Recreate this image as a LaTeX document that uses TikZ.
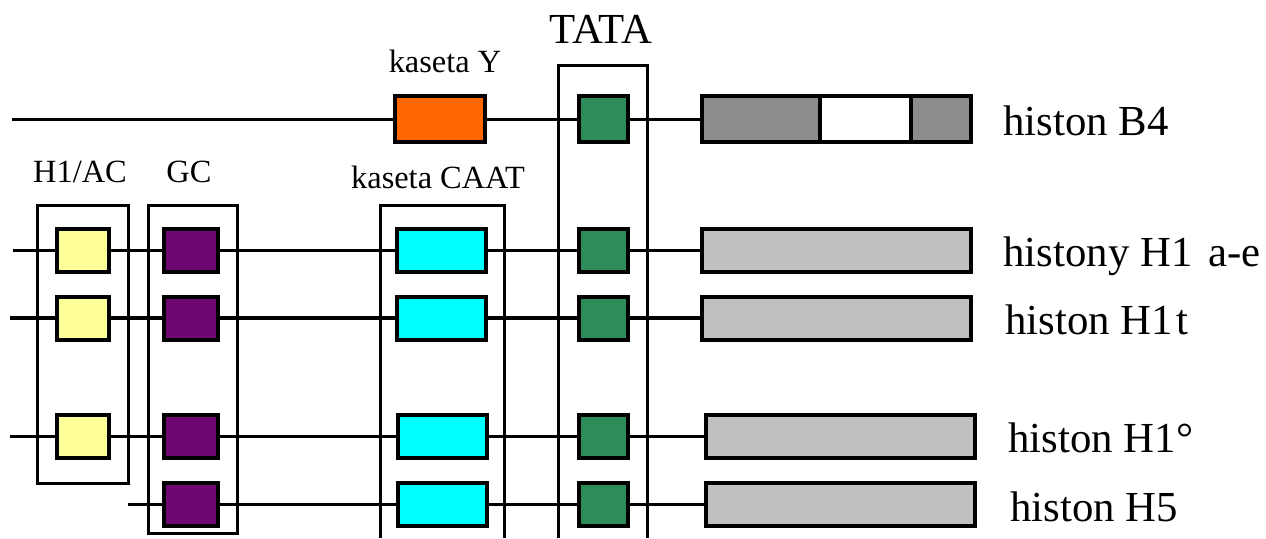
\documentclass[tikz,border=0pt]{standalone}
\usepackage{fontspec}
\setmainfont{Liberation Serif}
\usetikzlibrary{backgrounds}
\definecolor{boxYellow}{HTML}{FFFF99}
\definecolor{boxPurple}{HTML}{6E0870}
\definecolor{boxCyan}{HTML}{00FFFF}
\definecolor{boxGreen}{HTML}{2E8B5A}
\definecolor{boxOrange}{HTML}{FF6600}
\definecolor{exonDark}{HTML}{8C8C8C}
\definecolor{exonLight}{HTML}{C0C0C0}
\begin{document}
\begin{tikzpicture}[x=0.5pt,y=-0.5pt,
  element/.style={draw=black,line width=2pt,inner sep=0pt,outer sep=0pt,minimum height=21.5pt},
  tall/.style={minimum height=23pt},
  h1ac/.style={element,fill=boxYellow,minimum width=26pt},
  gcbox/.style={element,fill=boxPurple,minimum width=27pt},
  caat/.style={element,fill=boxCyan,minimum width=44.5pt},
  tata/.style={element,fill=boxGreen,minimum width=24.5pt},
  ybox/.style={element,fill=boxOrange,minimum width=45pt},
  exon/.style={element,fill=exonLight,minimum width=134.5pt},
  wire/.style={line width=1.5pt},
  frame/.style={line width=1.5pt},
  bigtext/.style={inner sep=0pt,font=\fontsize{21.4}{24}\selectfont},
  smalltext/.style={inner sep=0pt,font=\fontsize{16.2}{19}\selectfont}]
\useasboundingbox (0,0) rectangle (1266,538);

% ---- histone B4 ----
\coordinate (s0) at (12,119);
\node[ybox,tall] (y0) at (440,119) {};
\node[tata,tall] (t0) at (603.5,119) {};
\node[exon,tall,fill=exonDark] (g0) at (836.5,119) {};
\node[element,tall,fill=white,minimum width=45.5pt] (w0) at (865.5,119) {};

% ---- histones H1 a-e ----
\coordinate (s1) at (13,250);
\node[h1ac] (a1) at (83,250) {};
\node[gcbox] (b1) at (191,250) {};
\node[caat] (c1) at (441.5,250) {};
\node[tata] (t1) at (603.5,250) {};
\node[exon] (g1) at (836.5,250) {};

% ---- histone H1t ----
\coordinate (s2) at (10,318);
\node[h1ac] (a2) at (83,318) {};
\node[gcbox] (b2) at (191,318) {};
\node[caat] (c2) at (441.5,318) {};
\node[tata] (t2) at (603.5,318) {};
\node[exon] (g2) at (836.5,318) {};

% ---- histone H1 zero ----
\coordinate (s3) at (10,436);
\node[h1ac] (a3) at (83,436) {};
\node[gcbox] (b3) at (191,436) {};
\node[caat] (c3) at (442.5,436) {};
\node[tata] (t3) at (603.5,436) {};
\node[exon] (g3) at (840.5,436) {};

% ---- histone H5 ----
\coordinate (s4) at (128,504);
\node[gcbox] (b4) at (191,504) {};
\node[caat] (c4) at (442.5,504) {};
\node[tata] (t4) at (603.5,504) {};
\node[exon] (g4) at (840.5,504) {};

% DNA strands run behind the elements
\begin{scope}[on background layer]
  \draw[wire] (s0) -- (g0.west);
  \draw[wire] (s1) -- (g1.west);
  \draw[wire,line width=2pt] (s2) -- (g2.west);
  \draw[wire] (s3) -- (g3.west);
  \draw[wire] (s4) -- (g4.west);
\end{scope}

% grouping frames
\draw[frame] (37,205) rectangle (128,483);
\draw[frame] (148,205) rectangle (237,533);
\draw[frame] (380,538) -- (380,205) -- (504,205) -- (504,538);
\draw[frame] (558,538) -- (558,65) -- (647,65) -- (647,538);

% element labels
\node[bigtext,anchor=base] (lTATA) at (601,43) {TATA};
\node[smalltext,anchor=base] (lY) at (445,72) {kaseta Y};
\node[smalltext,anchor=base] (lH1AC) at (80,182) {H1/AC};
\node[smalltext,anchor=base] (lGC) at (189,182) {GC};
\node[smalltext,anchor=base] (lCAAT) at (438,188) {kaseta CAAT};

% gene names
\node[bigtext,anchor=base west] (n0) at (1003,135) {histon B4};
\node[bigtext,anchor=base west] (n1) at (1003,266) {histony H1\hspace{0.12em} a-e};
\node[bigtext,anchor=base west] (n2) at (1005,334) {histon H1\kern1.5pt t};
\node[bigtext,anchor=base west] (n3) at (1008,452) {histon H1°};
\node[bigtext,anchor=base west] (n4) at (1010,521) {histon H5};
\end{tikzpicture}
\end{document}
